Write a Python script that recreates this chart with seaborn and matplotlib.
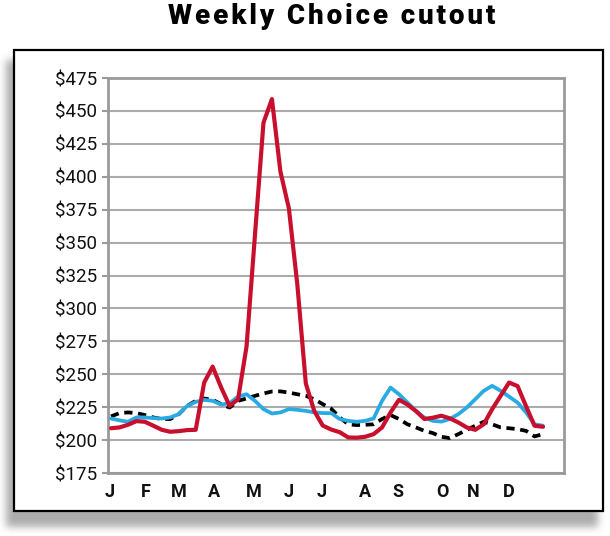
import numpy as np
import matplotlib
matplotlib.use("Agg")
import matplotlib.pyplot as plt
import seaborn as sns
from matplotlib.patches import Rectangle

# ---------------- data ----------------
weeks = list(range(52))
red_2020 = [209, 209.6, 211.6, 214.4, 213.9, 210.9, 207.8, 206.3, 206.8, 207.6,
            207.8, 243.7, 255.8, 240, 226, 231, 271, 356, 441, 459,
            404, 376, 318, 243, 222, 211, 208, 206, 202, 201.8,
            202.5, 204.5, 209.6, 221, 230.6, 227, 222, 216, 217, 218.5,
            216.5, 213.4, 209.6, 207.8, 212, 223.5, 233.6, 243.7, 241, 225.7,
            210.9, 210.1]
blue_2019 = [216.4, 215, 213.9, 217.2, 217.2, 216.7, 216.4, 217.2, 219.7, 226,
             229, 230.5, 229.8, 227, 228, 233, 234.8, 229.8, 223.5, 220.2,
             221, 223.5, 223, 222.2, 221, 220.5, 220.5, 216, 214.6, 213.9,
             214.6, 216.4, 229.8, 239.9, 234.8, 228.5, 222.2, 217, 214.6, 214,
             216, 219.7, 224.7, 231, 237.4, 241.2, 237.4, 233, 228.5, 221,
             212, 210.9]
black_avg = [218, 220.5, 221, 220.5, 219, 217.2, 216, 216, 219.7, 226,
             229.8, 231.6, 230.6, 227.3, 224.7, 229.8, 231.6, 233.6, 235.4, 236.9,
             237, 236.1, 234.8, 233.6, 231, 227.3, 223.8, 217.2, 212, 211.4,
             211.6, 212, 216, 219, 216, 212, 209.6, 207, 205.3, 202.5,
             201.5, 204.5, 207.8, 210.9, 213.9, 212, 209.6, 209, 208.3, 207,
             202.8, 204.5]
months = ["J", "F", "M", "A", "M", "J", "J", "A", "S", "O", "N", "D"]
month_pos = [-0.1, 4.1, 8.0, 12.2, 16.9, 21.0, 24.9, 30.0, 33.9, 39.1, 42.7, 46.9]
y_ticks = [175, 200, 225, 250, 275, 300, 325, 350, 375, 400, 425, 450, 475]
title = "Weekly Choice cutout"

# ---------------- style ----------------
sns.set_theme(style="white")
plt.rcParams['font.family'] = ['Roboto', 'DejaVu Sans']

W, H = 610, 536
fig = plt.figure(figsize=(W / 100, H / 100), dpi=100)
fig.patch.set_facecolor("white")

# background: drop shadow + framed box
bg = fig.add_axes([0, 0, 1, 1])
bg.set_xlim(0, W)
bg.set_ylim(H, 0)
bg.axis("off")
yy, xx = np.mgrid[0:H, 0:W]
mask = ((xx >= 6) & (xx <= 597) & (yy >= 60) & (yy <= 526)).astype(float)


def box_blur(a, r):
    k = np.ones(2 * r + 1) / (2 * r + 1)
    a = np.apply_along_axis(lambda m: np.convolve(m, k, mode="same"), 0, a)
    a = np.apply_along_axis(lambda m: np.convolve(m, k, mode="same"), 1, a)
    return a


for _ in range(2):
    mask = box_blur(mask, 4)
img = np.zeros((H, W, 4))
img[..., :3] = 0.6
img[..., 3] = mask * 0.8
bg.imshow(img, extent=(0, W, H, 0), aspect="auto", interpolation="bilinear", zorder=0)
bg.add_patch(Rectangle((14, 50), 589, 461, facecolor="white", edgecolor="black",
                       lw=1.6, zorder=1))

# letter-spaced title
spaced = "\u200a \u200a".join("\u200a".join(w) for w in title.split(" "))
fig.text(332 / W, 1 - 16 / H, spaced, ha="center", va="center", fontsize=20,
         fontweight="black", color="black", family=["Roboto", "DejaVu Sans"])

# ---------------- chart ----------------
ax = fig.add_axes([108 / W, 1 - 473 / H, (564 - 108) / W, (473 - 78) / H])
ax.set_facecolor("none")

sns.lineplot(x=weeks, y=black_avg, ax=ax, color="black", lw=2.7,
             linestyle=(0, (2.2, 1.5)), zorder=3)
sns.lineplot(x=weeks, y=blue_2019, ax=ax, color="#2AAAE2", lw=2.7, zorder=4)
sns.lineplot(x=weeks, y=red_2020, ax=ax, color="#C8102E", lw=3.0, zorder=5)

ax.set_xlim(-0.354, 53.48)
ax.set_ylim(175, 475)
ax.set_yticks(y_ticks)
ax.set_yticklabels([f"${v}" for v in y_ticks])
ax.set_xticks(month_pos)
ax.set_xticklabels(months, fontweight="bold")
ax.yaxis.grid(True, color="#ababab", lw=1.5)
ax.xaxis.grid(False)
for s in ax.spines.values():
    s.set_visible(True)
    s.set_color("#9a9a9a")
    s.set_linewidth(2)
ax.tick_params(axis="y", length=4, width=1.5, color="#9a9a9a", pad=4,
               labelsize=13.5, labelcolor="#111111", left=True)
ax.tick_params(axis="x", length=0, pad=7, labelsize=13, labelcolor="#111111")
ax.set_xlabel("")
ax.set_ylabel("")

fig.savefig("out.png", dpi=100)
